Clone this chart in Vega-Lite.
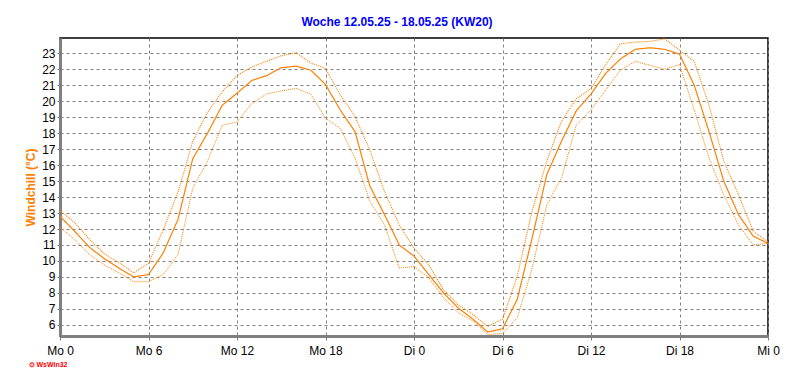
{
  "$schema": "https://vega.github.io/schema/vega-lite/v6.json",
  "width": 708,
  "height": 298,
  "autosize": {"type": "none"},
  "padding": {"left": 60, "top": 38, "right": 24, "bottom": 51},
  "background": "white",
  "title": {
    "text": "Woche 12.05.25 - 18.05.25 (KW20)",
    "color": "#0000ff",
    "font": "Liberation Sans",
    "fontSize": 12,
    "fontWeight": "bold",
    "anchor": "middle",
    "dx": -17,
    "offset": 9
  },
  "config": {
    "view": {"stroke": "black", "strokeWidth": 1.5},
    "axis": {
      "labelFont": "Liberation Sans",
      "labelFontSize": 12,
      "labelColor": "black",
      "gridColor": "#808080",
      "gridDash": [3, 3],
      "gridWidth": 1,
      "gridOpacity": 1,
      "domainColor": "#808080",
      "domainWidth": 3,
      "tickColor": "#808080",
      "tickWidth": 1
    }
  },
  "data": {
    "values": [
      {"h": 0, "avg": 12.8, "max": 13.15, "min": 12.1},
      {"h": 1, "avg": 11.85, "max": 12.4, "min": 11.35},
      {"h": 2, "avg": 10.85, "max": 11.35, "min": 10.4},
      {"h": 3, "avg": 10.15, "max": 10.45, "min": 9.75},
      {"h": 4, "avg": 9.55, "max": 9.9, "min": 9.25},
      {"h": 5, "avg": 9.0, "max": 9.25, "min": 8.7},
      {"h": 6, "avg": 9.15, "max": 9.85, "min": 8.7},
      {"h": 7, "avg": 10.5, "max": 11.95, "min": 9.15},
      {"h": 8, "avg": 12.6, "max": 14.3, "min": 10.4},
      {"h": 9, "avg": 16.4, "max": 17.5, "min": 14.55},
      {"h": 10, "avg": 18.0, "max": 19.3, "min": 16.25},
      {"h": 11, "avg": 19.75, "max": 20.6, "min": 18.5},
      {"h": 12, "avg": 20.5, "max": 21.6, "min": 18.7},
      {"h": 13, "avg": 21.3, "max": 22.15, "min": 19.85},
      {"h": 14, "avg": 21.6, "max": 22.5, "min": 20.45},
      {"h": 15, "avg": 22.1, "max": 22.85, "min": 20.65},
      {"h": 16, "avg": 22.2, "max": 23.05, "min": 20.8},
      {"h": 17, "avg": 21.95, "max": 22.4, "min": 20.45},
      {"h": 18, "avg": 21.05, "max": 22.05, "min": 18.95},
      {"h": 19, "avg": 19.45, "max": 20.4, "min": 18.3},
      {"h": 20, "avg": 18.1, "max": 19.05, "min": 16.45},
      {"h": 21, "avg": 14.7, "max": 16.95, "min": 13.75},
      {"h": 22, "avg": 12.9, "max": 14.35, "min": 12.25},
      {"h": 23, "avg": 11.0, "max": 12.25, "min": 9.55},
      {"h": 24, "avg": 10.3, "max": 10.8, "min": 9.65},
      {"h": 25, "avg": 9.15, "max": 9.75, "min": 8.95},
      {"h": 26, "avg": 8.0, "max": 8.2, "min": 7.7},
      {"h": 27, "avg": 7.05, "max": 7.25, "min": 6.75},
      {"h": 28, "avg": 6.35, "max": 6.65, "min": 6.25},
      {"h": 29, "avg": 5.55, "max": 5.9, "min": 5.4},
      {"h": 30, "avg": 5.75, "max": 6.35, "min": 5.45},
      {"h": 31, "avg": 7.6, "max": 9.05, "min": 6.45},
      {"h": 32, "avg": 11.4, "max": 13.1, "min": 9.5},
      {"h": 33, "avg": 15.4, "max": 16.25, "min": 13.5},
      {"h": 34, "avg": 17.5, "max": 18.75, "min": 15.2},
      {"h": 35, "avg": 19.4, "max": 20.15, "min": 18.5},
      {"h": 36, "avg": 20.45, "max": 20.8, "min": 19.45},
      {"h": 37, "avg": 21.75, "max": 22.3, "min": 20.7},
      {"h": 38, "avg": 22.65, "max": 23.6, "min": 21.95},
      {"h": 39, "avg": 23.25, "max": 23.7, "min": 22.5},
      {"h": 40, "avg": 23.35, "max": 23.75, "min": 22.25},
      {"h": 41, "avg": 23.25, "max": 23.9, "min": 22.0},
      {"h": 42, "avg": 22.95, "max": 23.2, "min": 22.3},
      {"h": 43, "avg": 21.0, "max": 22.5, "min": 19.45},
      {"h": 44, "avg": 18.1, "max": 19.75, "min": 16.45},
      {"h": 45, "avg": 15.0, "max": 16.25, "min": 14.15},
      {"h": 46, "avg": 12.9, "max": 14.15, "min": 12.25},
      {"h": 47, "avg": 11.55, "max": 11.85, "min": 11.0},
      {"h": 48, "avg": 11.1, "max": 11.2, "min": 11.1}
    ]
  },
  "transform": [
    {"fold": ["avg", "max", "min"], "as": ["series", "value"]}
  ],
  "mark": {"type": "line", "color": "#ff8000", "clip": true, "interpolate": "linear"},
  "encoding": {
    "x": {
      "field": "h",
      "type": "quantitative",
      "scale": {"domain": [0, 48], "nice": false, "zero": false},
      "axis": {
        "values": [0, 6, 12, 18, 24, 30, 36, 42, 48],
        "labelExpr": "datum.value < 24 ? 'Mo ' + datum.value : (datum.value < 48 ? 'Di ' + (datum.value - 24) : 'Mi 0')",
        "grid": true,
        "tickSize": 4,
        "labelPadding": 5,
        "labelFlush": false,
        "title": "\u2299 WsWin32",
        "titleColor": "#ff0000",
        "titleFont": "Liberation Sans",
        "titleFontSize": 7,
        "titleFontWeight": "bold",
        "titleAnchor": "start",
        "titleAlign": "left",
        "titleBaseline": "middle",
        "titleX": -32,
        "titleY": 28
      }
    },
    "y": {
      "field": "value",
      "type": "quantitative",
      "scale": {"domain": [5.3, 23.96], "nice": false, "zero": false},
      "axis": {
        "values": [6, 7, 8, 9, 10, 11, 12, 13, 14, 15, 16, 17, 18, 19, 20, 21, 22, 23],
        "grid": true,
        "tickSize": 3,
        "labelPadding": 2,
        "title": "Windchill  (°C)",
        "titleColor": "#ff8000",
        "titleFont": "Liberation Sans",
        "titleFontSize": 12,
        "titleFontWeight": "bold",
        "titlePadding": 4
      }
    },
    "detail": {"field": "series"},
    "strokeDash": {
      "field": "series",
      "type": "nominal",
      "scale": {"domain": ["avg", "max", "min"], "range": [[1, 0], [1, 1], [1, 1]]},
      "legend": null
    },
    "strokeWidth": {
      "field": "series",
      "type": "nominal",
      "scale": {"domain": ["avg", "max", "min"], "range": [1.2, 1, 1]},
      "legend": null
    }
  }
}
